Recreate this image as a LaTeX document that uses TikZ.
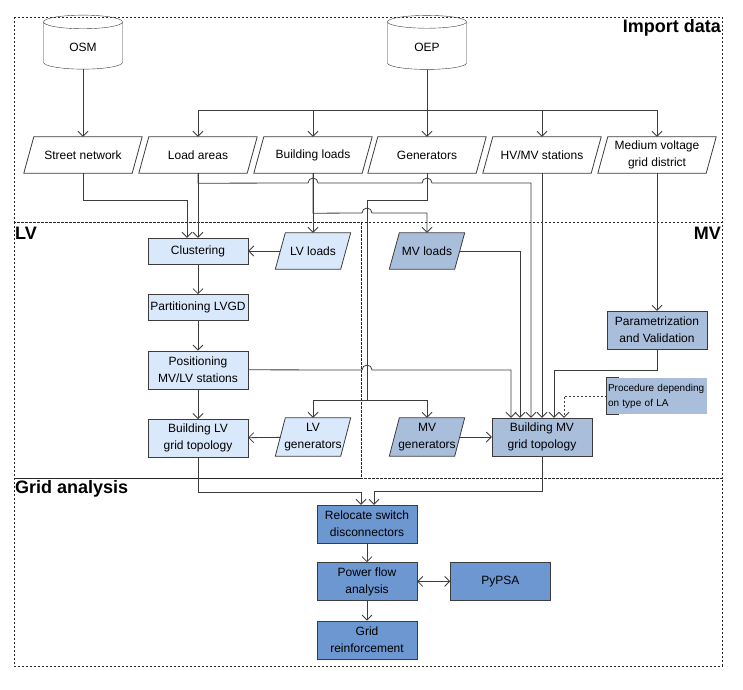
\documentclass[tikz,border=0pt]{standalone}
\usepackage{fontspec}
\setmainfont{Liberation Sans}
\usepackage{tikz}
\usetikzlibrary{shapes,shapes.geometric,arrows.meta,positioning,calc,backgrounds}
\definecolor{LVFill}{HTML}{DAE8FC}
\definecolor{MVFill}{HTML}{A9BEDB}
\definecolor{GAFill}{HTML}{6D97D0}
\definecolor{LineGray}{HTML}{3C3C3C}

\begin{document}
\begin{tikzpicture}[x=1pt,y=-1pt,
  database/.style={cylinder,shape border rotate=90,draw=LineGray,aspect=0.4,
                   minimum width=79pt,minimum height=54pt,
                   font=\fontsize{12}{14}\selectfont},
  data/.style={rectangle,minimum width=108pt,minimum height=36pt,inner sep=1pt,
               align=center,font=\fontsize{12}{17}\selectfont},
  smalldata/.style={data,minimum width=65pt},
  process/.style={rectangle,draw=LineGray,minimum width=100pt,inner sep=1pt,
                  align=center,font=\fontsize{12}{17}\selectfont},
  section/.style={draw=black!85,dash pattern=on 2pt off 2pt},
  title/.style={font=\fontsize{18}{20}\selectfont\bfseries,inner sep=1pt},
  arrow/.style={-{Straight Barb[length=5pt,width=10pt]},draw=LineGray,line width=0.8pt},
  dblarrow/.style={{Straight Barb[length=5pt,width=10pt]}-{Straight Barb[length=5pt,width=10pt]},
                   draw=LineGray,line width=0.8pt},
  line/.style={draw=LineGray,line width=0.8pt}
]
\useasboundingbox (0,0) rectangle (743,689);

% sections
\draw[section] (14,17) rectangle (722,222);
\draw[section] (14,222) rectangle (361,478);
\draw[section] (361,222) rectangle (722,478);
\draw[section] (14,478) rectangle (722,666);
\node[title,anchor=east] (timport) at (722,28) {Import data};
\node[title,anchor=west] (tlv) at (14,233) {LV};
\node[title,anchor=east] (tmv) at (722,233) {MV};
\node[title,anchor=west] (tgrid) at (14,489) {Grid analysis};

% import data
\node[database] (osm) at (83,47) {OSM};
\node[database] (oep) at (427,47) {OEP};
\node[data] (street) at (83,155)  {Street network};
\node[data] (areas)  at (198,155) {Load areas};
\node[data] (bloads) at (313,155) {Building loads};
\node[data] (gens)   at (427,155) {Generators};
\node[data] (hvmv)   at (542,155) {HV/MV stations};
\node[data] (mvgd)   at (657,155) {Medium voltage\\grid district};
\coordinate (oepbus) at (427,110);

% LV
\node[process,fill=LVFill,minimum height=26pt] (clust) at (198,251) {Clustering};
\node[process,fill=LVFill,minimum height=26pt,below=30pt of clust] (part) {Partitioning LVGD};
\node[process,fill=LVFill,minimum height=38pt,below=30pt of part] (posit) {Positioning\\MV/LV stations};
\node[process,fill=LVFill,minimum height=38pt,below=30pt of posit] (blv) {Building LV\\grid topology};
\node[smalldata] (lvload) at (313,251) {LV loads};
\node[smalldata,minimum height=38pt] (lvgen) at (313,437) {LV\\generators};

% MV
\node[smalldata] (mvload) at (427,251) {MV loads};
\node[smalldata,minimum height=38pt] (mvgen) at (427,437) {MV\\generators};
\node[process,fill=MVFill,minimum height=38pt] (bmv) at (542,437) {Building MV\\grid topology};
\node[process,fill=MVFill,minimum height=38pt] (param) at (657,330) {Parametrization\\and Validation};
\node[rectangle,fill=MVFill,minimum width=100pt,minimum height=36pt,inner sep=1pt,
      text width=98pt,align=left,font=\fontsize{10}{15}\selectfont] (note) at (657,396)
      {Procedure depending\\on type of LA};
\draw[line] ($(note.north west)+(12,0)$) -- (note.north west) -- (note.south west)
      -- ($(note.south west)+(12,0)$);
\coordinate (genbus) at (367,400);

% slanted data boxes behind their texts
\begin{scope}[on background layer]
\foreach \n/\c in {street/white,areas/white,bloads/white,gens/white,hvmv/white,mvgd/white,
                   lvload/LVFill,lvgen/LVFill,mvload/MVFill,mvgen/MVFill}
  \draw[line,fill=\c] ($(\n.south west)+(-5,0)$) -- ($(\n.north west)+(5,0)$)
        -- ($(\n.north east)+(5,0)$) -- ($(\n.south east)+(-5,0)$) -- cycle;
\end{scope}

% grid analysis
\node[process,fill=GAFill,minimum height=38pt] (reloc) at (367,524) {Relocate switch\\disconnectors};
\node[process,fill=GAFill,minimum height=38pt,below=19pt of reloc] (pflow) {Power flow\\analysis};
\node[process,fill=GAFill,minimum height=38pt,below=20pt of pflow] (reinf) {Grid\\reinforcement};
\node[process,fill=GAFill,minimum height=38pt,right=33pt of pflow] (pypsa) {PyPSA};

% import connections
\draw[arrow] (osm) -- (street);
\draw[line] (oep) -- (oepbus);
\draw[arrow] (oepbus) -| (areas);
\draw[arrow] (oepbus) -| (bloads);
\draw[arrow] (oepbus) -- (gens);
\draw[arrow] (oepbus) -| (hvmv);
\draw[arrow] (oepbus) -| (mvgd);

% to LV and MV
\draw[arrow] (street.south) -- ++(0,27) -| ($(clust.north)+(-11,0)$);
\draw[arrow] (areas) -- (clust);
\draw[arrow] (areas.south) -- ++(0,10) -- (308,183) arc[start angle=180,end angle=360,radius=5]
      -- (422,183) arc[start angle=180,end angle=360,radius=5] -| ($(bmv.north)+(-11,0)$);
\draw[arrow] (bloads) -- (lvload);
\draw[arrow] (bloads.south) -- ++(0,40) -- (362,213) arc[start angle=180,end angle=360,radius=5]
      -| (mvload);
\draw[line] (gens.south) -- ++(0,27) -| (genbus);
\draw[arrow] (genbus) -| (lvgen);
\draw[arrow] (genbus) -| (mvgen);
\draw[arrow] (hvmv) -- (bmv);
\draw[arrow] (mvgd) -- (param);

% LV chain
\draw[arrow] (lvload) -- (clust);
\draw[arrow] (clust) -- (part);
\draw[arrow] (part) -- (posit);
\draw[arrow] (posit) -- (blv);
\draw[arrow] (lvgen) -- (blv);
\draw[arrow] (posit.east) -- (362,370) arc[start angle=180,end angle=360,radius=5]
      -| ($(bmv.north)+(-31,0)$);

% MV inputs
\draw[arrow] (mvload.east) -| ($(bmv.north)+(-22,0)$);
\draw[arrow] (param.south) -- ++(0,21) -| ($(bmv.north)+(12,0)$);
\draw[arrow,dash pattern=on 2pt off 2pt] (note.west) -| ($(bmv.north)+(22,0)$);
\draw[arrow] (mvgen) -- (bmv);

% grid analysis
\draw[arrow] (blv.south) -- ++(0,35) -| ($(reloc.north)+(-6,0)$);
\draw[arrow] (bmv.south) -- ++(0,35) -| ($(reloc.north)+(7,0)$);
\draw[arrow] (reloc) -- (pflow);
\draw[arrow] (pflow) -- (reinf);
\draw[dblarrow] (pflow) -- (pypsa);
\end{tikzpicture}
\end{document}
